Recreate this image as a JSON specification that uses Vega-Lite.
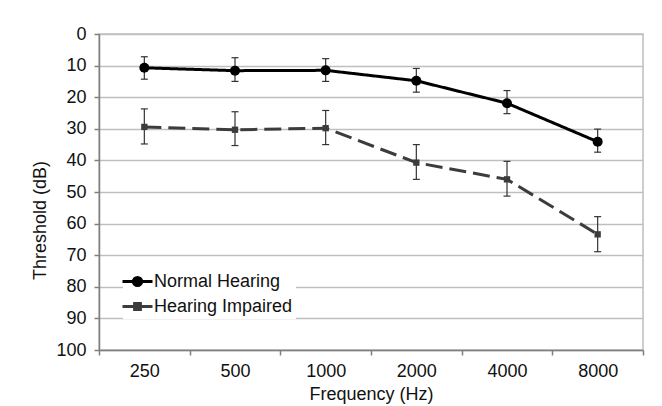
{
  "$schema": "https://vega.github.io/schema/vega-lite/v6.json",
  "width": 544,
  "height": 316,
  "autosize": "none",
  "padding": {"left": 99, "top": 34, "right": 19, "bottom": 56},
  "background": "white",
  "config": {
    "font": "Liberation Sans",
    "view": {"stroke": "#bfbfbf", "strokeWidth": 1.5}
  },
  "data": {
    "values": [
      {"freq": "250", "group": "Normal Hearing", "value": 10.7, "lo": 7.2, "hi": 14.3},
      {"freq": "500", "group": "Normal Hearing", "value": 11.6, "lo": 7.5, "hi": 15.0},
      {"freq": "1000", "group": "Normal Hearing", "value": 11.5, "lo": 7.8, "hi": 15.0},
      {"freq": "2000", "group": "Normal Hearing", "value": 14.8, "lo": 10.9, "hi": 18.4},
      {"freq": "4000", "group": "Normal Hearing", "value": 21.9, "lo": 17.9, "hi": 25.2},
      {"freq": "8000", "group": "Normal Hearing", "value": 34.1, "lo": 30.1, "hi": 37.4},
      {"freq": "250", "group": "Hearing Impaired", "value": 29.4, "lo": 23.7, "hi": 34.8},
      {"freq": "500", "group": "Hearing Impaired", "value": 30.3, "lo": 24.6, "hi": 35.3},
      {"freq": "1000", "group": "Hearing Impaired", "value": 29.8, "lo": 24.2, "hi": 35.0},
      {"freq": "2000", "group": "Hearing Impaired", "value": 40.7, "lo": 35.0, "hi": 46.0},
      {"freq": "4000", "group": "Hearing Impaired", "value": 46.0, "lo": 40.3, "hi": 51.3},
      {"freq": "8000", "group": "Hearing Impaired", "value": 63.4, "lo": 57.8, "hi": 68.9}
    ]
  },
  "encoding": {
    "x": {
      "field": "freq",
      "type": "ordinal",
      "sort": ["250", "500", "1000", "2000", "4000", "8000"],
      "scale": {"paddingInner": 0, "paddingOuter": 0},
      "axis": {
        "title": "Frequency (Hz)",
        "labelAngle": 0,
        "tickBand": "extent",
        "grid": false,
        "labelFont": "Liberation Sans",
        "titleFont": "Liberation Sans",
        "labelFontSize": 18,
        "titleFontSize": 18,
        "titleFontWeight": "normal",
        "labelColor": "#111",
        "titleColor": "#111",
        "domainColor": "#7f7f7f",
        "domainWidth": 1.5,
        "tickColor": "#7f7f7f",
        "tickWidth": 1.5,
        "tickSize": 5,
        "labelPadding": 7,
        "titlePadding": 5
      }
    },
    "y": {
      "field": "value",
      "type": "quantitative",
      "scale": {"domain": [0, 100], "reverse": true, "nice": false},
      "axis": {
        "title": "Threshold (dB)",
        "values": [0, 10, 20, 30, 40, 50, 60, 70, 80, 90, 100],
        "tickCount": 11,
        "labelOverlap": false,
        "labelFont": "Liberation Sans",
        "titleFont": "Liberation Sans",
        "labelFontSize": 18,
        "titleFontSize": 18,
        "titleFontWeight": "normal",
        "labelColor": "#111",
        "titleColor": "#111",
        "domainColor": "#7f7f7f",
        "domainWidth": 1.5,
        "tickColor": "#7f7f7f",
        "tickWidth": 1.5,
        "tickSize": 5,
        "gridColor": "#bfbfbf",
        "gridWidth": 1.5,
        "labelPadding": 8,
        "titlePadding": 6,
        "titleY": 186
      }
    }
  },
  "layer": [
    {
      "mark": {"type": "rule", "color": "#333333", "strokeWidth": 1.2},
      "encoding": {
        "y": {"field": "lo", "type": "quantitative", "title": "Threshold (dB)"},
        "y2": {"field": "hi"}
      }
    },
    {
      "mark": {"type": "tick", "color": "#333333", "thickness": 1.2, "size": 7, "opacity": 1},
      "encoding": {"y": {"field": "lo", "type": "quantitative", "title": "Threshold (dB)"}}
    },
    {
      "mark": {"type": "tick", "color": "#333333", "thickness": 1.2, "size": 7, "opacity": 1},
      "encoding": {"y": {"field": "hi", "type": "quantitative", "title": "Threshold (dB)"}}
    },
    {
      "mark": {"type": "line", "strokeWidth": 3},
      "encoding": {
        "color": {
          "field": "group",
          "type": "nominal",
          "scale": {"domain": ["Normal Hearing", "Hearing Impaired"], "range": ["#000000", "#3c3c3c"]}
        },
        "strokeDash": {
          "field": "group",
          "type": "nominal",
          "scale": {"domain": ["Hearing Impaired", "Normal Hearing"], "range": [[17, 7], [1, 0]]},
          "legend": null
        }
      }
    },
    {
      "transform": [{"filter": "datum.group === 'Normal Hearing'"}],
      "mark": {"type": "point", "shape": "circle", "filled": true, "opacity": 1, "size": 100, "color": "#000000"}
    },
    {
      "transform": [{"filter": "datum.group === 'Hearing Impaired'"}],
      "mark": {"type": "point", "shape": "square", "filled": true, "opacity": 1, "size": 40, "color": "#3c3c3c"}
    },
    {
      "mark": {"type": "point", "filled": true, "size": 0, "strokeWidth": 0, "opacity": 1, "fillOpacity": 1},
      "encoding": {
        "color": {
          "field": "group",
          "type": "nominal",
          "legend": {
            "title": null,
            "orient": "none",
            "legendX": 24,
            "legendY": 233,
            "fillColor": "white",
            "padding": 3,
            "labelFontSize": 18,
            "labelFont": "Liberation Sans",
            "labelColor": "#111",
            "labelOffset": 5,
            "rowPadding": 3,
            "symbolSize": 400,
            "symbolOpacity": 1,
            "symbolStrokeWidth": 2.8
          }
        },
        "stroke": {
          "field": "group",
          "type": "nominal",
          "scale": {"domain": ["Normal Hearing", "Hearing Impaired"], "range": ["#000000", "#3c3c3c"]}
        },
        "shape": {
          "field": "group",
          "type": "nominal",
          "scale": {
            "domain": ["Normal Hearing", "Hearing Impaired"],
            "range": [
              "M-1.5,0H1.5M0.42,0A0.42,0.42,0,1,1,-0.42,0A0.42,0.42,0,1,1,0.42,0Z",
              "M-1.5,0H1.5M-0.3,-0.3H0.3V0.3H-0.3Z"
            ]
          }
        }
      }
    }
  ]
}
